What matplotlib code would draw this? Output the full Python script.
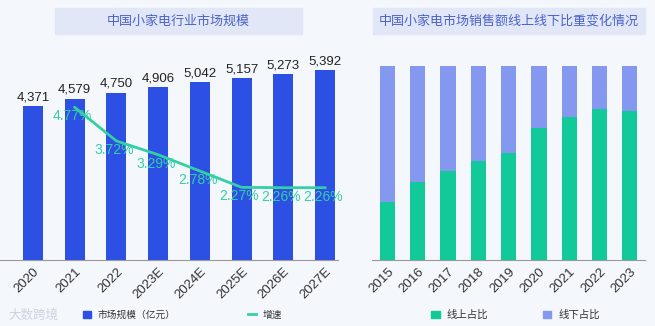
import numpy as np
import matplotlib.pyplot as plt
from matplotlib.patches import Rectangle, Patch
from matplotlib.lines import Line2D

plt.rcParams['font.family'] = ['Noto Sans CJK SC', 'DejaVu Sans']

# left chart data
years_l = ['2020', '2021', '2022', '2023E', '2024E', '2025E', '2026E', '2027E']
market = [4371, 4579, 4750, 4906, 5042, 5157, 5273, 5392]
growth_years = [1, 2, 3, 4, 5, 6, 7]
growth = [4.77, 3.72, 3.29, 2.78, 2.27, 2.26, 2.26]

# right chart data
years_r = ['2015', '2016', '2017', '2018', '2019', '2020', '2021', '2022', '2023']
online = [0.30, 0.40, 0.46, 0.51, 0.55, 0.68, 0.735, 0.78, 0.77]
offline = [1 - v for v in online]

blue = '#2c4fe4'
green_line = '#33d0a5'
green = '#12c99a'
light_blue = '#8498ef'
title_c = '#4b63c9'
box_c = '#e2e7f8'
W, H = 655, 326

fig = plt.figure(figsize=(6.55, 3.26), dpi=100)
fig.patch.set_facecolor('#f4f7fc')

def fx(px):
    return px / W

def fy(py):
    return 1 - py / H

# ---- left panel
ax = fig.add_axes([0, fy(260), fx(338), (260 - 40) / H])
ax.set_facecolor('none')
x = np.arange(len(years_l))
ax.bar(x, market, width=0.48, color=blue, zorder=2)
for xi, v in zip(x, market):
    ax.text(xi, v + 80, f'{v:,}', ha='center', va='bottom', fontsize=9.5,
            color='#222222', family=['Liberation Sans', 'DejaVu Sans'])
ax.set_xlim(-0.79, 7.31)
ax.set_ylim(0, 6243)
ax.set_yticks([])
ax.set_xticks(x)
ax.set_xticklabels(years_l, rotation=45, ha='right', rotation_mode='anchor',
                   fontsize=9.5, color='#333333', family=['Liberation Sans', 'DejaVu Sans'])
ax.tick_params(axis='x', length=0, pad=4)
for s in ['top', 'right', 'left']:
    ax.spines[s].set_visible(False)
ax.spines['bottom'].set_color('#999999')

ax2 = ax.twinx()
ax2.plot(growth_years, growth, color=green_line, lw=2, zorder=3)
for xi, v in zip(growth_years, growth):
    ax2.text(xi - 0.05, v - 0.28, f'{v:.2f}%', ha='center', va='center', fontsize=10,
             color=green_line, family=['Liberation Sans', 'DejaVu Sans'])
ax2.set_ylim(0, 6.875)
ax2.set_yticks([])
for s in ['top', 'right', 'left', 'bottom']:
    ax2.spines[s].set_visible(False)

fig.add_artist(Rectangle((fx(55), fy(34)), fx(302) - fx(55), (34 - 8) / H,
                         transform=fig.transFigure, color=box_c, zorder=0))
fig.text(fx(178), fy(21), '中国小家电行业市场规模', ha='center', va='center',
         fontsize=9.4, color=title_c)

fig.legend(handles=[Patch(color=blue), Line2D([], [], color=green_line, lw=2)],
           labels=['市场规模（亿元）', '增速'], loc='center left',
           bbox_to_anchor=(fx(74), fy(315)), ncol=2, frameon=False, fontsize=7,
           handlelength=0.8, handleheight=0.8, handletextpad=0.7,
           columnspacing=7.5, labelcolor='#333333')

# ---- right panel
bx = fig.add_axes([fx(372), fy(260), fx(645) - fx(372), (260 - 66) / H])
bx.set_facecolor('none')
xr = np.arange(len(years_r))
bx.bar(xr, online, width=0.5, color=green, zorder=2)
bx.bar(xr, offline, width=0.5, bottom=online, color=light_blue, zorder=2)
bx.set_xlim(-0.51, 8.5)
bx.set_ylim(0, 1)
bx.set_yticks([])
bx.set_xticks(xr)
bx.set_xticklabels(years_r, rotation=45, ha='right', rotation_mode='anchor',
                   fontsize=9.5, color='#333333', family=['Liberation Sans', 'DejaVu Sans'])
bx.tick_params(axis='x', length=0, pad=4)
for s in ['top', 'right', 'left']:
    bx.spines[s].set_visible(False)
bx.spines['bottom'].set_color('#999999')

fig.add_artist(Rectangle((fx(373), fy(34)), fx(645) - fx(373), (34 - 8) / H,
                         transform=fig.transFigure, color=box_c, zorder=0))
fig.text(fx(509), fy(21), '中国小家电市场销售额线上线下比重变化情况', ha='center',
         va='center', fontsize=9.4, color=title_c)

fig.legend(handles=[Patch(color=green), Patch(color=light_blue)],
           labels=['线上占比', '线下占比'], loc='center left',
           bbox_to_anchor=(fx(422), fy(315)), ncol=2, frameon=False, fontsize=7.5,
           handlelength=0.8, handleheight=0.8, handletextpad=0.7,
           columnspacing=5.2, labelcolor='#333333')

# watermark
fig.text(fx(8), fy(315), '大数跨境', ha='left', va='center', fontsize=9,
         color='#c9cfdb', alpha=0.9)

fig.savefig('out.png', dpi=100, facecolor=fig.get_facecolor())
